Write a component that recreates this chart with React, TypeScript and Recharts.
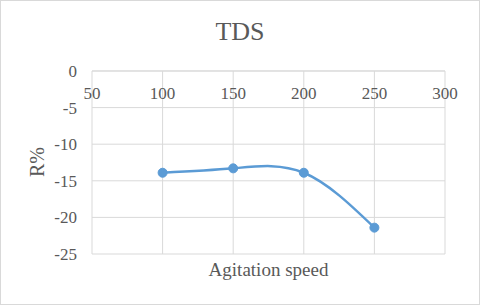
import { LineChart, Line, XAxis, YAxis, CartesianGrid } from "recharts";

const speeds = [100, 150, 200, 250];
const rValues = [-13.9, -13.3, -13.9, -21.4];
const xTicks = [50, 100, 150, 200, 250, 300];
const yTicks = [0, -5, -10, -15, -20, -25];

const data = speeds.map((s, i) => ({ speed: s, r: rValues[i] }));

const font = "Liberation Serif";
const textColor = "#595959";
const gridColor = "#d9d9d9";
const lineColor = "#5b9bd5";

const tickStyle = { fill: textColor, fontSize: 17, fontFamily: font };

export default function App() {
  return (
    <div style={{ position: "absolute", left: 0, top: 0, width: 480, height: 305, background: "#fff" }}>
      <LineChart width={480} height={305} data={data} margin={{ top: 71, right: 35, bottom: 51, left: 0 }} style={{ fontFamily: font }}>
        <CartesianGrid stroke={gridColor} strokeWidth={1} />
        <XAxis
          dataKey="speed" type="number" domain={[50, 300]} ticks={xTicks}
          orientation="top" mirror tickLine={false} axisLine={{ stroke: gridColor }}
          tickSize={0} tickMargin={16}
          tick={tickStyle}
        />
        <YAxis
          type="number" domain={[-25, 0]} ticks={yTicks} width={92}
          tickLine={false} axisLine={false} tickSize={0} tickMargin={15}
          tick={tickStyle}
        />
        <Line
          type="natural" dataKey="r" stroke={lineColor} strokeWidth={2.5}
          dot={{ r: 4.5, fill: lineColor, stroke: lineColor, strokeWidth: 1 }}
          isAnimationActive={false}
        />
      </LineChart>
      <div style={{ position: "absolute", left: 0, top: 14, width: 480, textAlign: "center", fontFamily: font, fontSize: 26, color: textColor, lineHeight: "36px" }}>
        TDS
      </div>
      <div style={{ position: "absolute", left: 92, top: 257, width: 353, textAlign: "center", fontFamily: font, fontSize: 19, color: textColor, lineHeight: "26px" }}>
        Agitation speed
      </div>
      <div style={{ position: "absolute", left: 37, top: 162, fontFamily: font, fontSize: 20, color: textColor, lineHeight: "24px", whiteSpace: "nowrap", transform: "translate(-50%, -50%) rotate(-90deg)" }}>
        R%
      </div>
      <div style={{ position: "absolute", left: 0, top: 0, width: 480, height: 305, boxSizing: "border-box", border: `1px solid ${gridColor}`, pointerEvents: "none" }} />
    </div>
  );
}
